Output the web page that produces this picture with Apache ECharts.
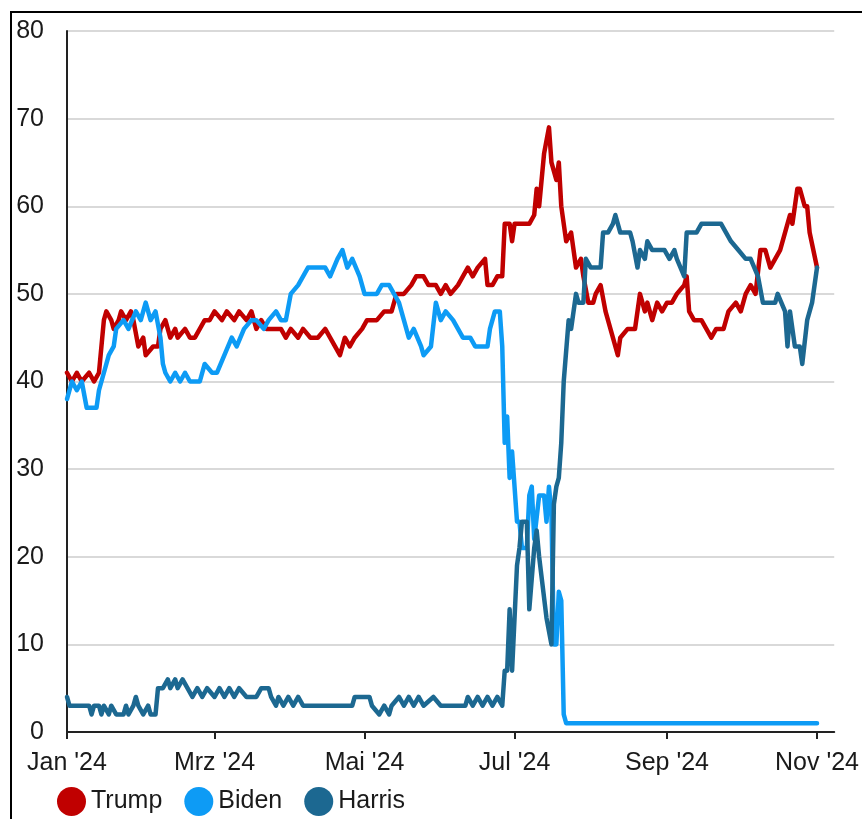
<!DOCTYPE html>
<html>
<head>
<meta charset="utf-8">
<script src="https://cdn.jsdelivr.net/npm/echarts@6/dist/echarts.min.js"></script>
<style>
html,body{margin:0;padding:0;background:#fff;}
#chart{width:862px;height:819px;}
</style>
</head>
<body>
<div id="chart"></div>
<script>
const seriesNames = ['Trump', 'Biden', 'Harris'];
const seriesColors = ['#C00000', '#0D9BF5', '#1C6891'];

const tickDates = ['2024-01-01', '2024-03-01', '2024-05-01', '2024-07-01', '2024-09-01', '2024-11-01'];
const tickLabels = ["Jan '24", "Mrz '24", "Mai '24", "Jul '24", "Sep '24", "Nov '24"];
const axisStart = '2024-01-01';
const axisEnd = '2024-11-08';
const yTicks = [0, 10, 20, 30, 40, 50, 60, 70, 80];

const trump = [
 ['2024-01-01',41],['2024-01-03',40],['2024-01-05',41],['2024-01-07',40],['2024-01-10',41],['2024-01-12',40],['2024-01-14',41],
 ['2024-01-16',47],['2024-01-17',48],['2024-01-19',47],['2024-01-20',46],['2024-01-22',47],['2024-01-23',48],['2024-01-25',47],
 ['2024-01-27',48],['2024-01-28',47],['2024-01-30',44],['2024-02-01',45],['2024-02-02',43],['2024-02-05',44],['2024-02-07',44],
 ['2024-02-08',46],['2024-02-10',47],['2024-02-12',45],['2024-02-14',46],['2024-02-15',45],['2024-02-18',46],['2024-02-20',45],
 ['2024-02-22',45],['2024-02-24',46],['2024-02-26',47],['2024-02-28',47],['2024-03-01',48],['2024-03-04',47],['2024-03-06',48],
 ['2024-03-09',47],['2024-03-11',48],['2024-03-14',47],['2024-03-16',48],['2024-03-18',46],['2024-03-20',47],['2024-03-22',46],
 ['2024-03-25',46],['2024-03-28',46],['2024-03-30',45],['2024-04-01',46],['2024-04-04',45],['2024-04-06',46],['2024-04-09',45],
 ['2024-04-12',45],['2024-04-15',46],['2024-04-17',45],['2024-04-19',44],['2024-04-21',43],['2024-04-23',45],['2024-04-25',44],
 ['2024-04-27',45],['2024-04-30',46],['2024-05-02',47],['2024-05-06',47],['2024-05-09',48],['2024-05-12',48],['2024-05-14',50],
 ['2024-05-17',50],['2024-05-20',51],['2024-05-22',52],['2024-05-25',52],['2024-05-27',51],['2024-05-30',51],['2024-06-01',50],
 ['2024-06-03',51],['2024-06-05',50],['2024-06-08',51],['2024-06-10',52],['2024-06-12',53],['2024-06-14',52],['2024-06-16',53],
 ['2024-06-19',54],['2024-06-20',51],['2024-06-22',51],['2024-06-24',52],['2024-06-26',52],['2024-06-27',58],['2024-06-29',58],
 ['2024-06-30',56],['2024-07-01',58],['2024-07-04',58],['2024-07-07',58],['2024-07-09',59],['2024-07-10',62],['2024-07-11',60],
 ['2024-07-13',66],['2024-07-15',69],['2024-07-16',65],['2024-07-18',63],['2024-07-19',65],['2024-07-20',60],['2024-07-22',56],
 ['2024-07-24',57],['2024-07-26',53],['2024-07-28',54],['2024-07-29',52],['2024-07-31',49],['2024-08-02',49],['2024-08-03',50],
 ['2024-08-05',51],['2024-08-07',48],['2024-08-10',45],['2024-08-12',43],['2024-08-13',45],['2024-08-16',46],['2024-08-19',46],
 ['2024-08-21',50],['2024-08-23',48],['2024-08-24',49],['2024-08-26',47],['2024-08-28',49],['2024-08-30',48],['2024-09-01',49],
 ['2024-09-03',49],['2024-09-05',50],['2024-09-08',51],['2024-09-09',52],['2024-09-10',48],['2024-09-12',47],['2024-09-15',47],
 ['2024-09-17',46],['2024-09-19',45],['2024-09-21',46],['2024-09-24',46],['2024-09-26',48],['2024-09-29',49],['2024-10-01',48],
 ['2024-10-03',50],['2024-10-05',51],['2024-10-07',50],['2024-10-09',55],['2024-10-11',55],['2024-10-13',53],['2024-10-15',54],
 ['2024-10-17',55],['2024-10-19',57],['2024-10-21',59],['2024-10-22',58],['2024-10-24',62],['2024-10-25',62],['2024-10-27',60],
 ['2024-10-28',60],['2024-10-29',57],['2024-11-01',53]
];

const biden = [
 ['2024-01-01',38],['2024-01-03',40],['2024-01-05',39],['2024-01-07',40],['2024-01-09',37],['2024-01-13',37],['2024-01-14',39],
 ['2024-01-16',41],['2024-01-18',43],['2024-01-20',44],['2024-01-21',46],['2024-01-24',47],['2024-01-26',46],['2024-01-29',48],
 ['2024-01-31',47],['2024-02-02',49],['2024-02-04',47],['2024-02-06',48],['2024-02-08',45],['2024-02-09',42],['2024-02-10',41],
 ['2024-02-12',40],['2024-02-14',41],['2024-02-16',40],['2024-02-18',41],['2024-02-20',40],['2024-02-22',40],['2024-02-24',40],
 ['2024-02-26',42],['2024-02-29',41],['2024-03-02',41],['2024-03-05',43],['2024-03-08',45],['2024-03-10',44],['2024-03-13',46],
 ['2024-03-16',47],['2024-03-18',47],['2024-03-21',46],['2024-03-23',47],['2024-03-26',48],['2024-03-28',47],['2024-03-30',47],
 ['2024-04-01',50],['2024-04-04',51],['2024-04-06',52],['2024-04-08',53],['2024-04-12',53],['2024-04-15',53],['2024-04-17',52],
 ['2024-04-20',54],['2024-04-22',55],['2024-04-24',53],['2024-04-26',54],['2024-04-29',52],['2024-05-01',50],['2024-05-06',50],
 ['2024-05-08',51],['2024-05-11',51],['2024-05-13',50],['2024-05-15',49],['2024-05-17',47],['2024-05-19',45],['2024-05-21',46],
 ['2024-05-24',44],['2024-05-25',43],['2024-05-28',44],['2024-05-30',49],['2024-06-01',47],['2024-06-03',48],['2024-06-06',47],
 ['2024-06-08',46],['2024-06-10',45],['2024-06-13',45],['2024-06-15',44],['2024-06-17',44],['2024-06-20',44],['2024-06-21',46],
 ['2024-06-23',48],['2024-06-25',48],['2024-06-26',44],['2024-06-27',33],['2024-06-28',36],['2024-06-29',29],['2024-06-30',32],
 ['2024-07-02',24],['2024-07-03',24],['2024-07-04',21],['2024-07-06',21],['2024-07-07',27],['2024-07-08',28],['2024-07-09',22],
 ['2024-07-11',27],['2024-07-13',27],['2024-07-14',24],['2024-07-15',28],['2024-07-16',25],['2024-07-17',10],['2024-07-18',10],
 ['2024-07-19',16],['2024-07-20',15],['2024-07-21',2],['2024-07-22',1],['2024-11-01',1]
];

const harris = [
 ['2024-01-01',4],['2024-01-02',3],['2024-01-10',3],['2024-01-11',2],['2024-01-12',3],['2024-01-14',3],['2024-01-15',2],
 ['2024-01-16',3],['2024-01-18',2],['2024-01-19',3],['2024-01-21',2],['2024-01-24',2],['2024-01-25',3],['2024-01-26',2],
 ['2024-01-28',3],['2024-01-29',4],['2024-01-30',3],['2024-02-01',2],['2024-02-03',3],['2024-02-04',2],['2024-02-06',2],
 ['2024-02-07',5],['2024-02-09',5],['2024-02-11',6],['2024-02-12',5],['2024-02-14',6],['2024-02-15',5],['2024-02-17',6],
 ['2024-02-19',5],['2024-02-21',4],['2024-02-23',5],['2024-02-25',4],['2024-02-27',5],['2024-03-01',4],['2024-03-03',5],
 ['2024-03-05',4],['2024-03-07',5],['2024-03-09',4],['2024-03-11',5],['2024-03-14',4],['2024-03-18',4],['2024-03-20',5],
 ['2024-03-23',5],['2024-03-24',4],['2024-03-26',3],['2024-03-27',4],['2024-03-29',3],['2024-03-31',4],['2024-04-02',3],
 ['2024-04-04',4],['2024-04-06',3],['2024-04-26',3],['2024-04-27',4],['2024-05-03',4],['2024-05-04',3],['2024-05-07',2],
 ['2024-05-09',3],['2024-05-11',2],['2024-05-12',3],['2024-05-15',4],['2024-05-17',3],['2024-05-19',4],['2024-05-21',3],
 ['2024-05-23',4],['2024-05-25',3],['2024-05-29',4],['2024-06-01',3],['2024-06-11',3],['2024-06-12',4],['2024-06-14',3],
 ['2024-06-16',4],['2024-06-18',3],['2024-06-20',4],['2024-06-22',3],['2024-06-24',4],['2024-06-26',3],['2024-06-27',7],
 ['2024-06-28',7],['2024-06-29',14],['2024-06-30',7],['2024-07-02',19],['2024-07-03',21],['2024-07-04',24],['2024-07-06',24],
 ['2024-07-07',14],['2024-07-09',21],['2024-07-10',23],['2024-07-11',20],['2024-07-14',13],['2024-07-16',10],['2024-07-17',26],
 ['2024-07-18',28],['2024-07-19',29],['2024-07-20',33],['2024-07-21',40],['2024-07-23',47],['2024-07-24',46],['2024-07-26',50],
 ['2024-07-27',49],['2024-07-29',49],['2024-07-30',54],['2024-08-01',53],['2024-08-05',53],['2024-08-06',57],['2024-08-08',57],
 ['2024-08-10',58],['2024-08-11',59],['2024-08-13',57],['2024-08-17',57],['2024-08-18',56],['2024-08-20',53],['2024-08-21',55],
 ['2024-08-23',54],['2024-08-24',56],['2024-08-26',55],['2024-08-31',55],['2024-09-02',54],['2024-09-04',55],['2024-09-05',54],
 ['2024-09-08',52],['2024-09-09',57],['2024-09-11',57],['2024-09-13',57],['2024-09-15',58],['2024-09-23',58],['2024-09-25',57],
 ['2024-09-27',56],['2024-09-30',55],['2024-10-03',54],['2024-10-05',54],['2024-10-08',52],['2024-10-10',49],['2024-10-15',49],
 ['2024-10-16',50],['2024-10-19',48],['2024-10-20',44],['2024-10-21',48],['2024-10-23',44],['2024-10-25',44],['2024-10-26',42],
 ['2024-10-28',47],['2024-10-30',49],['2024-11-01',53]
];

// date string -> day number counted from axisStart (UTC, no DST effects)
function dayNum(s) {
  const p = s.split('-').map(Number);
  const q = axisStart.split('-').map(Number);
  return Math.round((Date.UTC(p[0], p[1] - 1, p[2]) - Date.UTC(q[0], q[1] - 1, q[2])) / 86400000);
}
const tickDays = tickDates.map(dayNum);
const seriesData = [trump, biden, harris];

const chart = echarts.init(document.getElementById('chart'), null, {renderer: 'canvas'});
const FONT = 'Liberation Sans, Arial, sans-serif';

chart.setOption({
  animation: false,
  backgroundColor: '#ffffff',
  graphic: [{
    type: 'rect', z: -10,
    shape: {x: 11, y: 12, width: 900, height: 900},
    style: {fill: 'none', stroke: '#000', lineWidth: 2}
  }],
  grid: {left: 67, right: 26, top: 31, bottom: 87, containLabel: false},
  legend: {
    left: 52, top: 782,
    icon: 'circle', itemWidth: 29, itemHeight: 29, itemGap: 22,
    textStyle: {fontFamily: FONT, fontSize: 25, color: '#1a1a1a'},
    data: seriesNames
  },
  xAxis: {
    type: 'value',
    min: 0, max: dayNum(axisEnd),
    axisLine: {show: true, lineStyle: {color: '#222', width: 2}},
    axisTick: {show: true, length: 7, lineStyle: {color: '#222', width: 2}, customValues: tickDays},
    axisLabel: {
      customValues: tickDays,
      fontFamily: FONT, fontSize: 25, color: '#1a1a1a', margin: 19,
      showMinLabel: true, showMaxLabel: true,
      formatter: function (v) {
        const i = tickDays.indexOf(Math.round(v));
        return i >= 0 ? tickLabels[i] : '';
      }
    },
    splitLine: {show: false}
  },
  yAxis: {
    type: 'value', min: yTicks[0], max: yTicks[yTicks.length - 1], interval: 10,
    axisLine: {show: true, lineStyle: {color: '#222', width: 2}},
    axisTick: {show: false},
    axisLabel: {fontFamily: FONT, fontSize: 25, color: '#1a1a1a', margin: 23},
    splitLine: {show: true, lineStyle: {color: '#d9d9d9', width: 2}}
  },
  series: seriesNames.map((n, i) => ({
    name: n, type: 'line', showSymbol: false, symbol: 'circle',
    color: seriesColors[i],
    lineStyle: {width: 4.5, color: seriesColors[i], join: 'round', cap: 'round'},
    data: seriesData[i].map(d => [dayNum(d[0]), d[1]])
  }))
});
</script>
</body>
</html>
